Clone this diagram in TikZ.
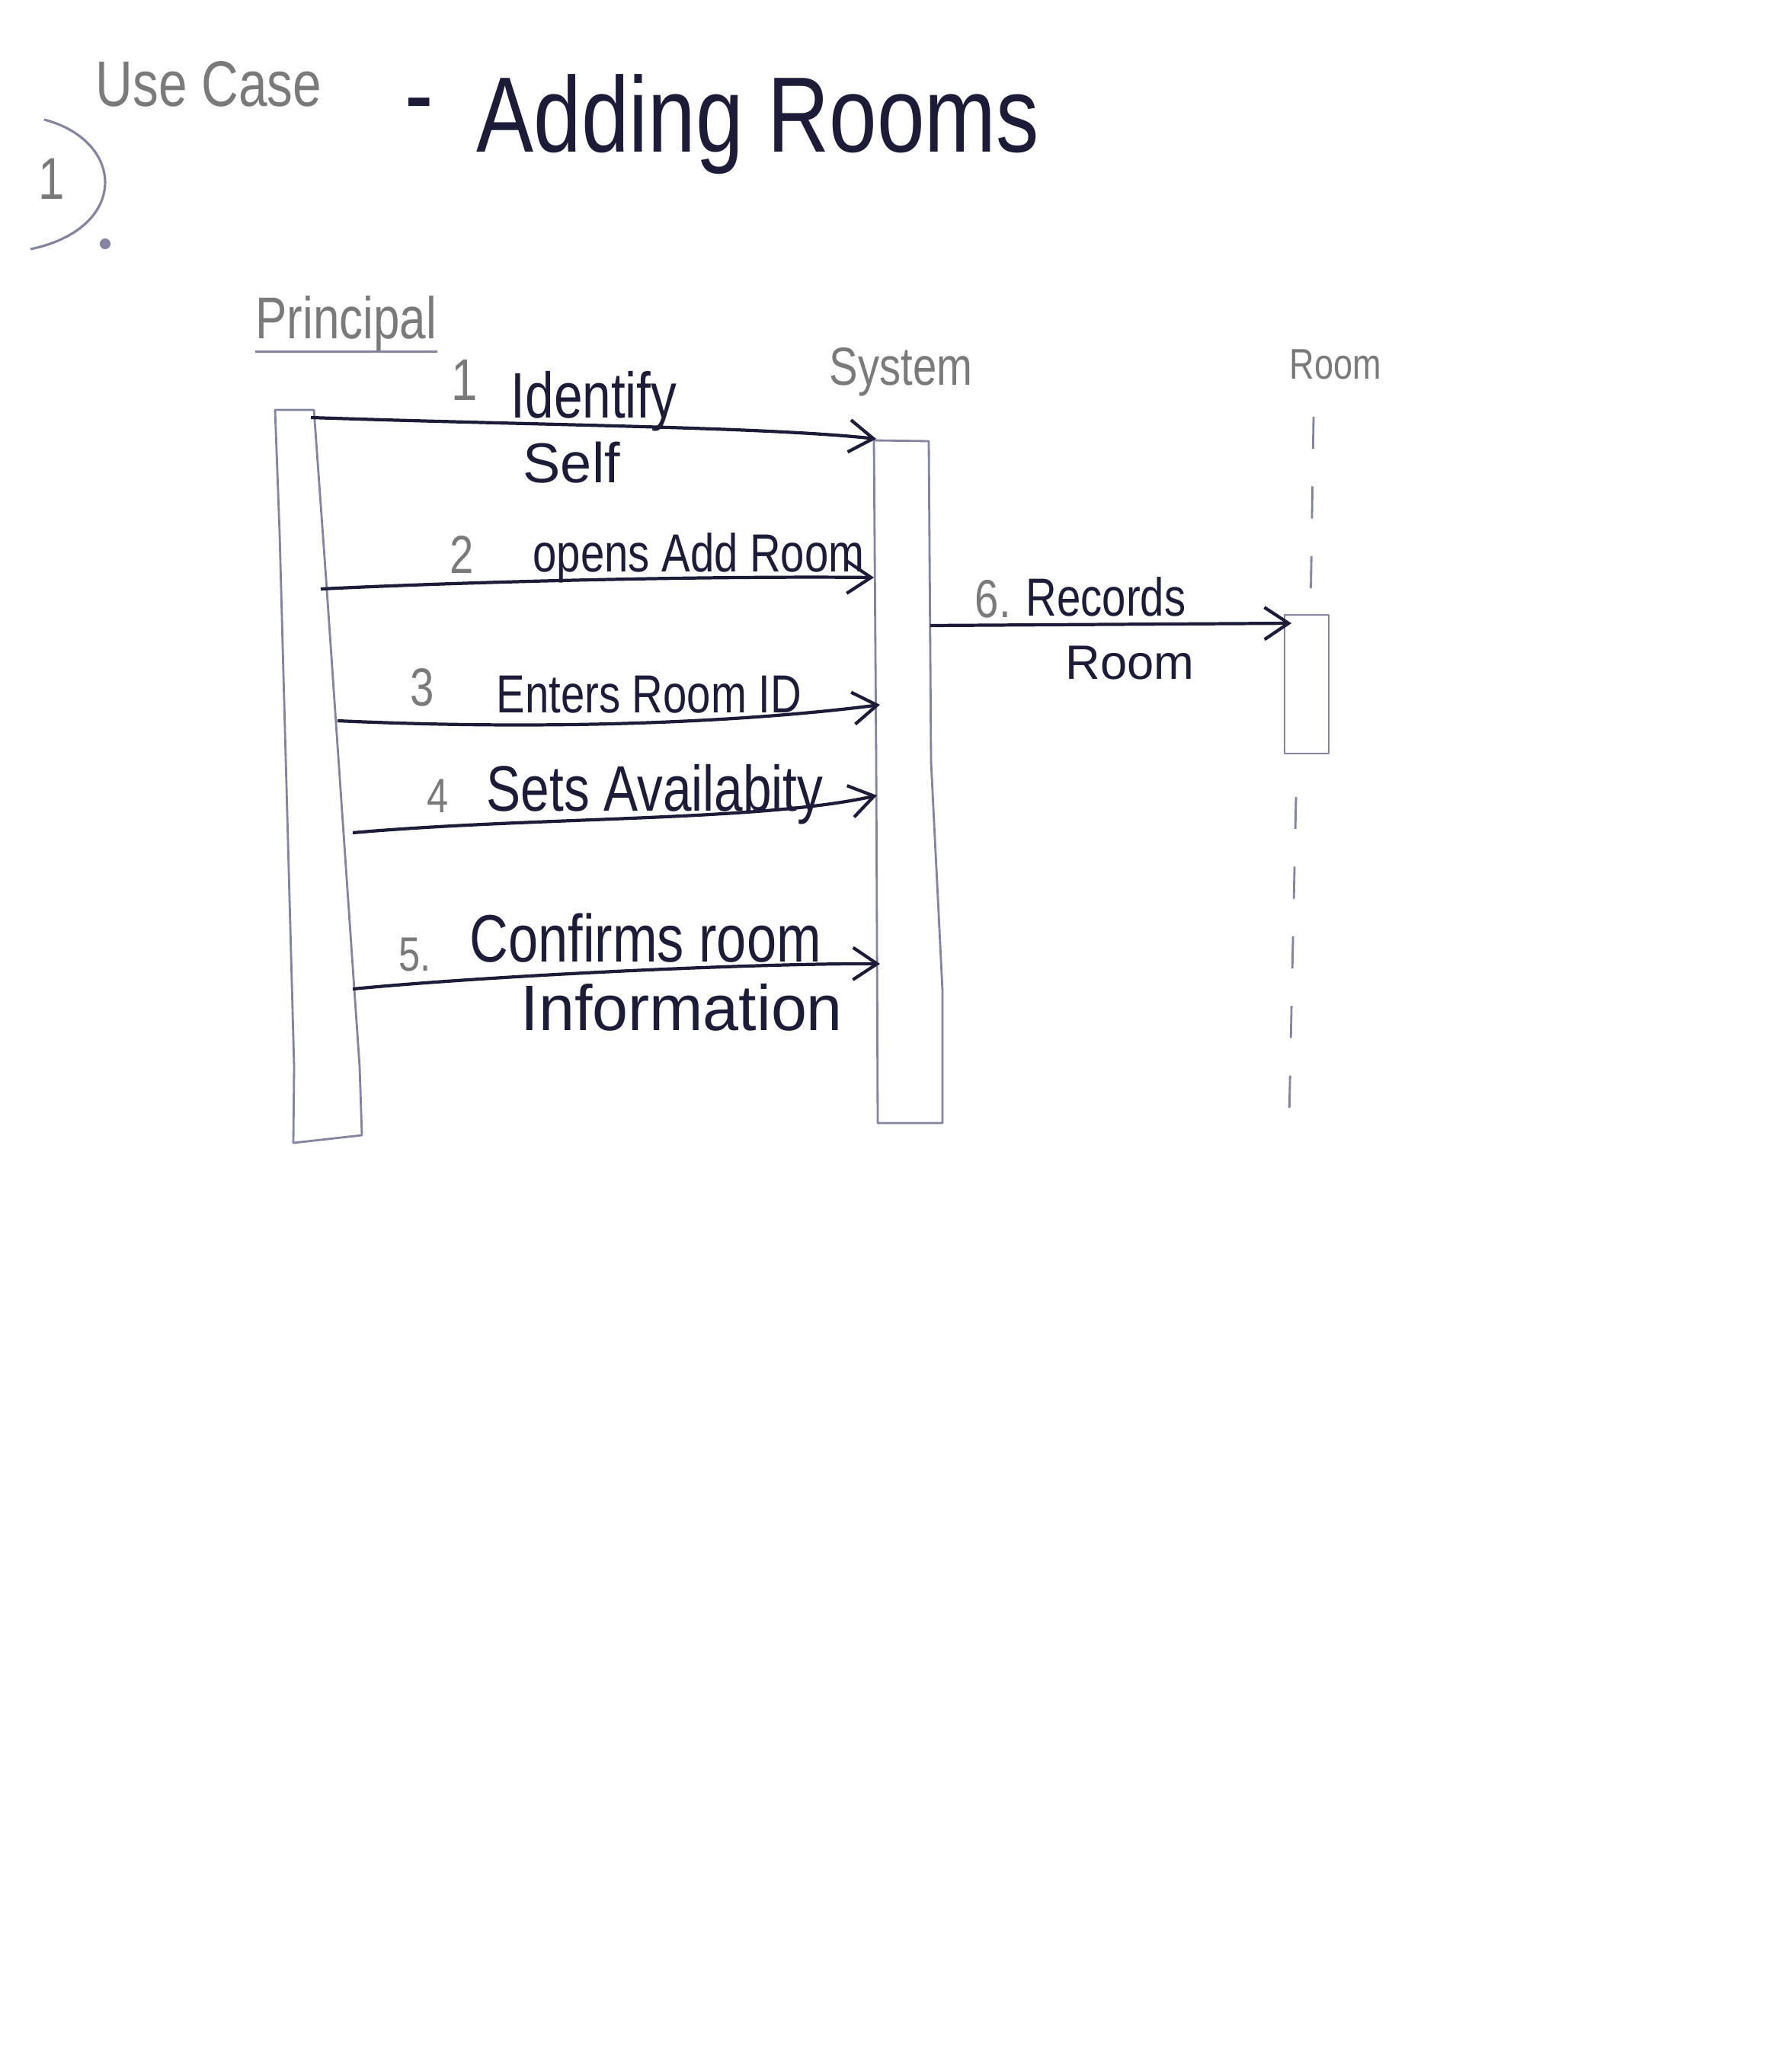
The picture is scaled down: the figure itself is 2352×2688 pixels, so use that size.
\documentclass[tikz,border=0pt]{standalone}
\usepackage{fontspec}
\setmainfont{Liberation Sans}
\newfontfamily\hand[FakeStretch=0.8]{Liberation Sans}
\newfontfamily\handw{Liberation Sans}
\usetikzlibrary{arrows.meta}
\definecolor{ink}{HTML}{1C1C38}
\definecolor{pencil}{HTML}{8484A0}
\definecolor{numgray}{HTML}{7A7A7A}
\tikzset{
  fs/.style={font=\hand\fontsize{#1}{#1}\selectfont},
  fw/.style={font=\handw\fontsize{#1}{#1}\selectfont},
  txt/.style={inner sep=0pt, text=ink, anchor=base west},
  gtxt/.style={inner sep=0pt, text=numgray, anchor=base west},
  lifebox/.style={draw=pencil, line width=0.8pt, line join=round},
  lifedash/.style={draw=pencil, line width=0.8pt, dash pattern=on 12pt off 14pt},
  msg/.style={draw=ink, line width=1.2pt, -{Straight Barb[length=9pt,width=12pt,line width=1.2pt]}},
}
\begin{document}
\begin{tikzpicture}[x=0.01cm,y=-0.01cm]
\useasboundingbox (0,0) rectangle (2352,2688);

% heading
\node[gtxt, fs=24] (usecase) at (125,140) {Use Case};
\node[txt, fs=40] (dash) at (531,172) {-};
\node[txt, fs=40] (title) at (625,200) {Adding Rooms};
\node[gtxt, fs=22] (num) at (50,262) {1};
\draw[pencil, line width=0.9pt] (58,157) .. controls (165,185) and (170,300) .. (40,327);
\fill[pencil] (138,320) circle (2pt);

% participants
\node[gtxt, fs=22] (principal) at (335,445) {Principal};
\draw[pencil, line width=0.9pt] (principal.south west) -- (principal.south east);
\node[gtxt, fs=20] (system) at (1088,505) {System};
\node[gtxt, fs=16] (room) at (1692,498) {Room};

% activation boxes / lifelines
\draw[lifebox] (361,538) -- (412,538) -- (428,760) -- (472,1400) -- (475,1490) -- (385,1500) -- (386,1400) -- (367,700) -- cycle;
\draw[lifebox] (1147,578) -- (1219,579) -- (1222,1000) -- (1237,1300) -- (1237,1474) -- (1152,1474) -- (1150,1000) -- cycle;
\draw[lifebox] (1686,807) -- (1744,807) -- (1744,989) -- (1686,989) -- cycle;
\draw[lifedash] (1724,547) -- (1720,806);
\draw[lifedash] (1701,1046) -- (1692,1467);

% message end points
\coordinate (p1) at (408,548);  \coordinate (s1) at (1150,576);
\coordinate (p2) at (421,773);  \coordinate (s2) at (1147,758);
\coordinate (p3) at (443,946);  \coordinate (s3) at (1155,925);
\coordinate (p4) at (463,1093); \coordinate (s4) at (1151,1044);
\coordinate (p5) at (463,1298); \coordinate (s5) at (1155,1265);
\coordinate (s6) at (1221,821); \coordinate (r6) at (1695,818);

% messages
\draw[msg] (p1) .. controls (700,558) and (1000,560) .. (s1);
\draw[msg] (p2) .. controls (650,762) and (950,756) .. (s2);
\draw[msg] (p3) .. controls (750,960) and (1000,945) .. (s3);
\draw[msg] (p4) .. controls (700,1072) and (1000,1078) .. (s4);
\draw[msg] (p5) .. controls (650,1280) and (1000,1264) .. (s5);
\draw[msg] (s6) -- (r6);

% message labels
\node[gtxt, fs=22] (n1) at (592,525) {1};
\node[txt, fs=24] (l1a) at (670,548) {Identify};
\node[txt, fw=21] (l1b) at (686,633) {Self};

\node[gtxt, fs=20] (n2) at (590,752) {2};
\node[txt, fs=20] (l2) at (699,750) {opens Add Room};

\node[gtxt, fs=20] (n3) at (538,926) {3};
\node[txt, fs=20] (l3) at (651,935) {Enters Room ID};

\node[gtxt, fs=18] (n4) at (560,1066) {4};
\node[txt, fs=24] (l4) at (638,1064) {Sets Availabity};

\node[gtxt, fs=18] (n5) at (523,1274) {5.};
\node[txt, fs=25] (l5a) at (616,1262) {Confirms room};
\node[txt, fw=24] (l5b) at (683,1352) {Information};

\node[gtxt, fs=20] (n6) at (1279,810) {6.};
\node[txt, fs=20] (l6a) at (1346,808) {Records};
\node[txt, fw=18] (l6b) at (1398,891) {Room};
\end{tikzpicture}
\end{document}
